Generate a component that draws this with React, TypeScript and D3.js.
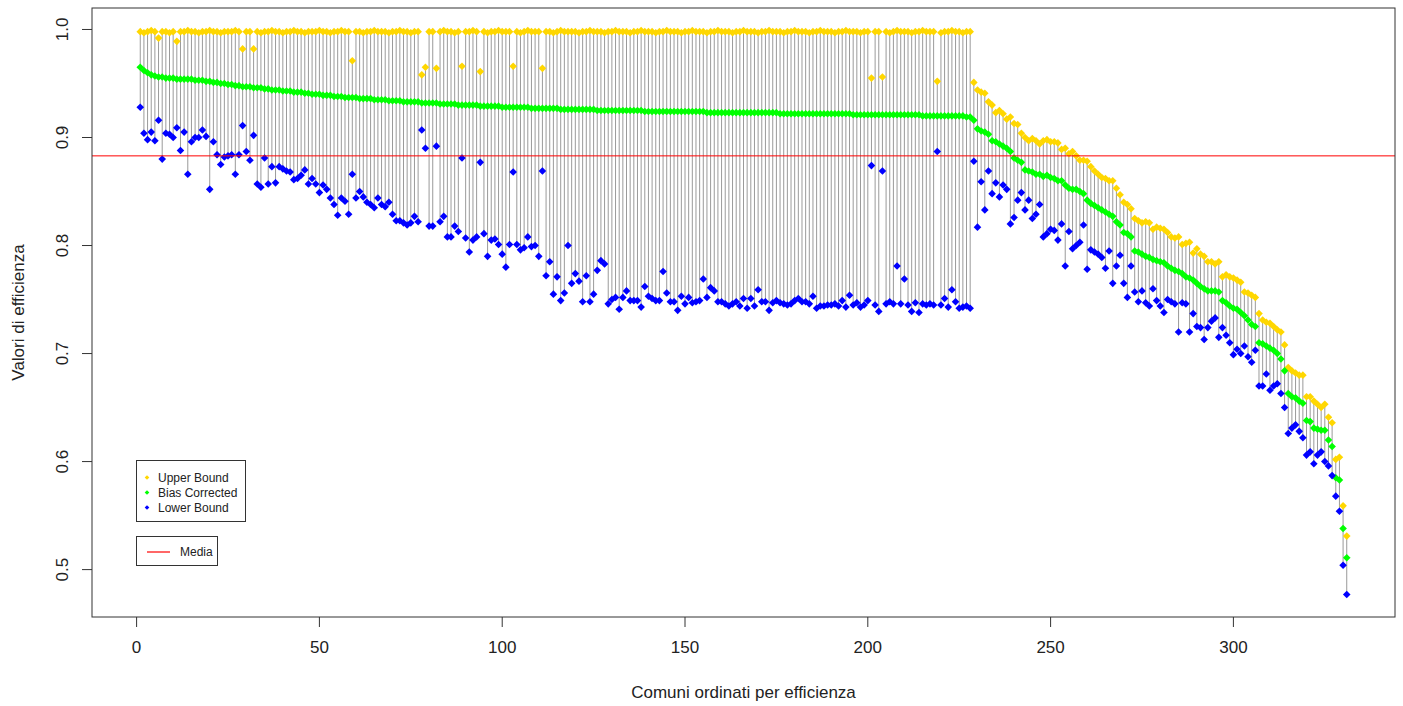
import * as d3 from "d3";

// values, municipality order 1..331
const upperBound = [
  0.998, 0.997, 0.998, 0.999, 0.998, 0.992, 0.998, 0.998, 0.997, 0.998,
  0.989, 0.998, 0.998, 0.999, 0.998, 0.998, 0.997, 0.998, 0.998, 0.999,
  0.998, 0.998, 0.997, 0.998, 0.998, 0.998, 0.999, 0.998, 0.982, 0.998,
  0.998, 0.982, 0.998, 0.997, 0.998, 0.998, 0.999, 0.998, 0.998, 0.997,
  0.998, 0.998, 0.999, 0.998, 0.998, 0.997, 0.998, 0.998, 0.998, 0.999,
  0.998, 0.998, 0.997, 0.998, 0.998, 0.999, 0.998, 0.998, 0.971, 0.998,
  0.998, 0.997, 0.998, 0.998, 0.999, 0.998, 0.998, 0.998, 0.997, 0.998,
  0.998, 0.999, 0.998, 0.998, 0.997, 0.998, 0.998, 0.958, 0.965, 0.998,
  0.998, 0.964, 0.998, 0.999, 0.998, 0.998, 0.997, 0.998, 0.966, 0.998,
  0.998, 0.999, 0.998, 0.961, 0.998, 0.997, 0.998, 0.998, 0.999, 0.998,
  0.998, 0.998, 0.966, 0.998, 0.997, 0.998, 0.999, 0.998, 0.998, 0.998,
  0.964, 0.998, 0.998, 0.997, 0.998, 0.999, 0.998, 0.998, 0.998, 0.998,
  0.997, 0.998, 0.998, 0.999, 0.998, 0.998, 0.998, 0.997, 0.998, 0.998,
  0.999, 0.998, 0.998, 0.998, 0.997, 0.998, 0.998, 0.999, 0.998, 0.998,
  0.998, 0.997, 0.998, 0.998, 0.999, 0.998, 0.998, 0.998, 0.997, 0.998,
  0.998, 0.999, 0.998, 0.998, 0.998, 0.997, 0.998, 0.998, 0.999, 0.998,
  0.998, 0.998, 0.997, 0.998, 0.998, 0.999, 0.998, 0.998, 0.998, 0.997,
  0.998, 0.998, 0.999, 0.998, 0.998, 0.998, 0.997, 0.998, 0.998, 0.999,
  0.998, 0.998, 0.998, 0.997, 0.998, 0.998, 0.999, 0.998, 0.998, 0.998,
  0.997, 0.998, 0.998, 0.999, 0.998, 0.998, 0.998, 0.997, 0.998, 0.998,
  0.955, 0.998, 0.998, 0.956, 0.998, 0.997, 0.998, 0.999, 0.998, 0.998,
  0.998, 0.997, 0.998, 0.998, 0.999, 0.998, 0.998, 0.998, 0.952, 0.997,
  0.998, 0.998, 0.999, 0.998, 0.998, 0.997, 0.998, 0.998,
  0.951, 0.944, 0.942, 0.941, 0.933, 0.930, 0.923, 0.925, 0.922, 0.917,
  0.919, 0.913, 0.912, 0.904, 0.900, 0.897, 0.899, 0.897, 0.894, 0.897,
  0.898, 0.896, 0.896, 0.895, 0.889, 0.890, 0.885, 0.887, 0.883, 0.879,
  0.879, 0.878, 0.873, 0.869, 0.866, 0.863, 0.862, 0.860, 0.860, 0.853,
  0.847, 0.840, 0.838, 0.834, 0.825, 0.823, 0.821, 0.822, 0.821, 0.815,
  0.817, 0.816, 0.815, 0.812, 0.808, 0.807, 0.808, 0.801, 0.802, 0.803,
  0.793, 0.797, 0.792, 0.790, 0.785, 0.785, 0.783, 0.785, 0.771, 0.773,
  0.771, 0.770, 0.768, 0.766, 0.757, 0.756, 0.754, 0.752, 0.737, 0.731,
  0.729, 0.728, 0.725, 0.722, 0.720, 0.708, 0.687, 0.684, 0.682, 0.680,
  0.680, 0.660, 0.660, 0.656, 0.653, 0.650, 0.653, 0.641, 0.636, 0.602,
  0.604, 0.559, 0.531,
];

const biasCorrected = [
  0.965, 0.962, 0.960, 0.958, 0.957, 0.956, 0.956, 0.955, 0.955, 0.955,
  0.954, 0.954, 0.954, 0.954, 0.954, 0.953, 0.953, 0.953, 0.952, 0.952,
  0.951, 0.951, 0.950, 0.950, 0.949, 0.949, 0.948, 0.948, 0.947, 0.947,
  0.947, 0.946, 0.946, 0.946, 0.945, 0.945, 0.944, 0.944, 0.944, 0.943,
  0.943, 0.943, 0.942, 0.942, 0.942, 0.941, 0.941, 0.940, 0.940, 0.940,
  0.939, 0.939, 0.939, 0.938, 0.938, 0.938, 0.937, 0.937, 0.937, 0.937,
  0.936, 0.936, 0.936, 0.936, 0.935, 0.935, 0.935, 0.935, 0.934, 0.934,
  0.934, 0.934, 0.933, 0.933, 0.933, 0.933, 0.933, 0.932, 0.932, 0.932,
  0.932, 0.932, 0.931, 0.931, 0.931, 0.931, 0.931, 0.930, 0.930, 0.930,
  0.930, 0.930, 0.930, 0.929, 0.929, 0.929, 0.929, 0.929, 0.929, 0.928,
  0.928, 0.928, 0.928, 0.928, 0.928, 0.928, 0.928, 0.927, 0.927, 0.927,
  0.927, 0.927, 0.927, 0.927, 0.927, 0.926, 0.926, 0.926, 0.926, 0.926,
  0.926, 0.926, 0.926, 0.926, 0.926, 0.925, 0.925, 0.925, 0.925, 0.925,
  0.925, 0.925, 0.925, 0.925, 0.925, 0.925, 0.925, 0.925, 0.924, 0.924,
  0.924, 0.924, 0.924, 0.924, 0.924, 0.924, 0.924, 0.924, 0.924, 0.924,
  0.924, 0.924, 0.924, 0.924, 0.924, 0.923, 0.923, 0.923, 0.923, 0.923,
  0.923, 0.923, 0.923, 0.923, 0.923, 0.923, 0.923, 0.923, 0.923, 0.923,
  0.923, 0.923, 0.923, 0.923, 0.923, 0.922, 0.922, 0.922, 0.922, 0.922,
  0.922, 0.922, 0.922, 0.922, 0.922, 0.922, 0.922, 0.922, 0.922, 0.922,
  0.922, 0.922, 0.922, 0.922, 0.922, 0.921, 0.921, 0.921, 0.921, 0.921,
  0.921, 0.921, 0.921, 0.921, 0.921, 0.921, 0.921, 0.921, 0.921, 0.921,
  0.921, 0.921, 0.921, 0.921, 0.920, 0.920, 0.920, 0.920, 0.920, 0.920,
  0.920, 0.920, 0.920, 0.920, 0.920, 0.920, 0.919, 0.919,
  0.916, 0.908, 0.906, 0.905, 0.903, 0.897, 0.896, 0.894, 0.892, 0.890,
  0.887, 0.881, 0.879, 0.877, 0.870, 0.869, 0.868, 0.866, 0.866, 0.864,
  0.865, 0.863, 0.862, 0.860, 0.860, 0.856, 0.853, 0.852, 0.852, 0.850,
  0.848, 0.842, 0.839, 0.837, 0.835, 0.833, 0.831, 0.829, 0.827, 0.822,
  0.819, 0.812, 0.811, 0.808, 0.795, 0.794, 0.792, 0.790, 0.789, 0.787,
  0.786, 0.785, 0.784, 0.781, 0.779, 0.777, 0.776, 0.774, 0.771, 0.770,
  0.768, 0.765, 0.762, 0.760, 0.758, 0.758, 0.758, 0.757, 0.749, 0.747,
  0.744, 0.742, 0.741, 0.738, 0.735, 0.731, 0.727, 0.725, 0.710, 0.709,
  0.707, 0.705, 0.703, 0.700, 0.695, 0.684, 0.663, 0.660, 0.659, 0.656,
  0.654, 0.638, 0.637, 0.631, 0.630, 0.629, 0.629, 0.620, 0.614, 0.585,
  0.583, 0.538, 0.511,
];

const lowerBound = [
  0.928, 0.904, 0.898, 0.905, 0.897, 0.916, 0.880, 0.904, 0.903, 0.900,
  0.909, 0.888, 0.905, 0.866, 0.896, 0.900, 0.900, 0.907, 0.901, 0.852,
  0.896, 0.884, 0.875, 0.882, 0.883, 0.884, 0.866, 0.884, 0.911, 0.887,
  0.879, 0.902, 0.857, 0.854, 0.881, 0.857, 0.873, 0.858, 0.873, 0.871,
  0.869, 0.868, 0.861, 0.862, 0.865, 0.870, 0.857, 0.862, 0.857, 0.849,
  0.856, 0.852, 0.844, 0.838, 0.828, 0.844, 0.841, 0.829, 0.866, 0.844,
  0.850, 0.845, 0.840, 0.838, 0.835, 0.844, 0.838, 0.836, 0.840, 0.829,
  0.823, 0.823, 0.821, 0.819, 0.821, 0.827, 0.822, 0.907, 0.890, 0.818,
  0.818, 0.892, 0.822, 0.827, 0.808, 0.808, 0.818, 0.813, 0.881, 0.807,
  0.794, 0.805, 0.808, 0.877, 0.811, 0.790, 0.805, 0.806, 0.801, 0.792,
  0.780, 0.801, 0.868, 0.801, 0.796, 0.798, 0.808, 0.799, 0.800, 0.790,
  0.869, 0.772, 0.785, 0.755, 0.771, 0.749, 0.756, 0.800, 0.765, 0.774,
  0.767, 0.748, 0.772, 0.748, 0.755, 0.777, 0.786, 0.783, 0.746, 0.750,
  0.752, 0.741, 0.752, 0.758, 0.749, 0.749, 0.749, 0.743, 0.762, 0.753,
  0.751, 0.749, 0.749, 0.776, 0.756, 0.748, 0.748, 0.740, 0.753, 0.746,
  0.752, 0.747, 0.748, 0.749, 0.769, 0.752, 0.761, 0.758, 0.748, 0.748,
  0.746, 0.744, 0.746, 0.748, 0.744, 0.751, 0.742, 0.751, 0.744, 0.759,
  0.748, 0.748, 0.740, 0.747, 0.749, 0.747, 0.746, 0.745, 0.746, 0.749,
  0.751, 0.748, 0.748, 0.746, 0.753, 0.742, 0.744, 0.744, 0.745, 0.745,
  0.746, 0.744, 0.749, 0.743, 0.754, 0.745, 0.747, 0.743, 0.745, 0.749,
  0.874, 0.745, 0.739, 0.869, 0.746, 0.748, 0.746, 0.781, 0.746, 0.769,
  0.745, 0.739, 0.747, 0.738, 0.746, 0.745, 0.746, 0.745, 0.887, 0.745,
  0.751, 0.743, 0.759, 0.748, 0.742, 0.743, 0.744, 0.742,
  0.878, 0.817, 0.859, 0.833, 0.869, 0.848, 0.858, 0.845, 0.856, 0.852,
  0.820, 0.826, 0.842, 0.849, 0.833, 0.842, 0.825, 0.829, 0.838, 0.808,
  0.811, 0.815, 0.814, 0.805, 0.820, 0.781, 0.813, 0.797, 0.800, 0.803,
  0.819, 0.778, 0.796, 0.794, 0.792, 0.789, 0.779, 0.795, 0.765, 0.781,
  0.791, 0.765, 0.752, 0.781, 0.757, 0.748, 0.758, 0.747, 0.744, 0.760,
  0.749, 0.744, 0.738, 0.750, 0.748, 0.746, 0.720, 0.747, 0.746, 0.720,
  0.737, 0.725, 0.724, 0.713, 0.724, 0.730, 0.733, 0.715, 0.724, 0.717,
  0.710, 0.699, 0.704, 0.700, 0.707, 0.697, 0.692, 0.703, 0.670, 0.670,
  0.681, 0.666, 0.670, 0.672, 0.663, 0.650, 0.626, 0.631, 0.634, 0.628,
  0.622, 0.606, 0.609, 0.598, 0.606, 0.609, 0.600, 0.596, 0.587, 0.568,
  0.554, 0.504, 0.477,
];

const media = 0.883;

const xTicks = [0, 50, 100, 150, 200, 250, 300];
const yTicks = [0.5, 0.6, 0.7, 0.8, 0.9, 1.0];

const legendItems = [
  { label: "Upper Bound", color: "#FFD700" },
  { label: "Bias Corrected", color: "#00FF00" },
  { label: "Lower Bound", color: "#0000FF" },
];

const W = 1403;
const H = 706;
const plot = { left: 92, right: 1395, top: 8, bottom: 617 };
const font = "Liberation Sans, Arial, sans-serif";
const textColor = "#222";

const diamond = (r: number) => `M0,${-r}L${r},0L0,${r}L${-r},0Z`;

export default function App() {
  const n = biasCorrected.length;
  const idx = d3.range(1, n + 1);

  // R style 4% axis padding
  const xPad = (n - 1) * 0.04;
  const x = d3
    .scaleLinear()
    .domain([1 - xPad, n + xPad])
    .range([plot.left, plot.right]);

  const yMin = d3.min(lowerBound) as number;
  const yMax = d3.max(upperBound) as number;
  const yPad = (yMax - yMin) * 0.04;
  const y = d3
    .scaleLinear()
    .domain([yMin - yPad, yMax + yPad])
    .range([plot.bottom, plot.top]);

  const fmt = d3.format(".1f");
  const mark = diamond(3.8);

  const series = [
    { values: upperBound, color: "#FFD700" },
    { values: biasCorrected, color: "#00FF00" },
    { values: lowerBound, color: "#0000FF" },
  ];

  return (
    <svg
      width={W}
      height={H}
      style={{ position: "absolute", left: 0, top: 0, display: "block", background: "#fff" }}
      fontFamily={font}
    >
      {/* intervals */}
      <g stroke="#9a9a9a" strokeWidth={1}>
        {idx.map((i, k) => (
          <line
            key={i}
            x1={x(i)}
            x2={x(i)}
            y1={y(lowerBound[k])}
            y2={y(upperBound[k])}
          />
        ))}
      </g>

      {series.map((s, si) => (
        <g key={si} fill={s.color}>
          {s.values.map((v, k) => (
            <path key={k} d={mark} transform={`translate(${x(idx[k])},${y(v)})`} />
          ))}
        </g>
      ))}

      <line
        x1={plot.left}
        x2={plot.right}
        y1={y(media)}
        y2={y(media)}
        stroke="#FF0000"
        strokeWidth={1}
      />

      <rect
        x={plot.left}
        y={plot.top}
        width={plot.right - plot.left}
        height={plot.bottom - plot.top}
        fill="none"
        stroke="#333"
        strokeWidth={1}
      />

      {/* x axis */}
      <g>
        {xTicks.map((t) => (
          <g key={t} transform={`translate(${x(t)},0)`}>
            <line y1={plot.bottom} y2={plot.bottom + 10} stroke="#333" />
            <text
              y={plot.bottom + 36}
              textAnchor="middle"
              fontSize={17}
              fill={textColor}
            >
              {t}
            </text>
          </g>
        ))}
        <text
          x={(plot.left + plot.right) / 2}
          y={698}
          textAnchor="middle"
          fontSize={17}
          fill={textColor}
        >
          Comuni ordinati per efficienza
        </text>
      </g>

      {/* y axis */}
      <g>
        {yTicks.map((t) => (
          <g key={t} transform={`translate(0,${y(t)})`}>
            <line x1={plot.left - 10} x2={plot.left} stroke="#333" />
            <text
              transform="translate(68,0) rotate(-90)"
              textAnchor="middle"
              fontSize={17}
              fill={textColor}
            >
              {fmt(t)}
            </text>
          </g>
        ))}
        <text
          transform={`translate(24,${(plot.top + plot.bottom) / 2}) rotate(-90)`}
          textAnchor="middle"
          fontSize={17}
          fill={textColor}
        >
          Valori di efficienza
        </text>
      </g>

      {/* legends */}
      <g>
        <rect x={136.5} y={460.5} width={109} height={61} fill="#fff" stroke="#333" />
        {legendItems.map((d, i) => (
          <g key={d.label} transform={`translate(0,${477.5 + i * 15})`}>
            <path d={diamond(2.3)} transform="translate(147,0)" fill={d.color} />
            <text x={158} y={4} fontSize={12} fill={textColor}>
              {d.label}
            </text>
          </g>
        ))}
        <rect x={136.5} y={536.5} width={81} height={29} fill="#fff" stroke="#333" />
        <line x1={147} x2={170} y1={552} y2={552} stroke="#FF0000" strokeWidth={1.2} />
        <text x={180} y={555.5} fontSize={12} fill={textColor}>
          Media
        </text>
      </g>
    </svg>
  );
}
